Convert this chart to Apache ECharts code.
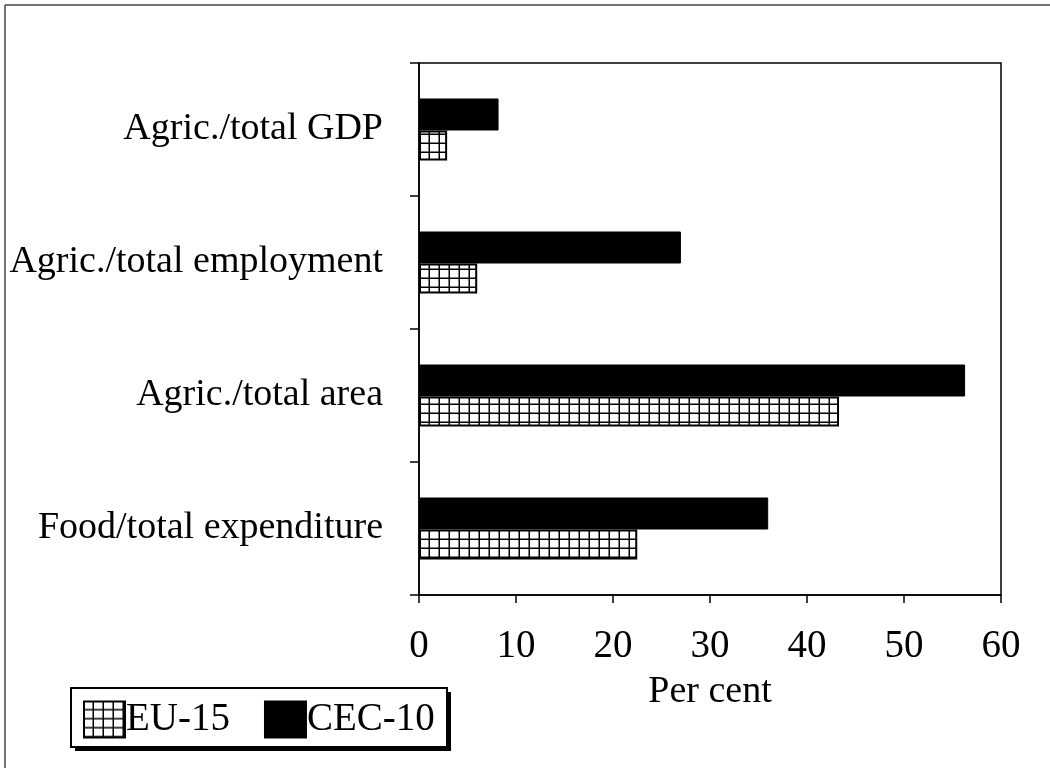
<!DOCTYPE html>
<html>
<head>
<meta charset="utf-8">
<script src="https://cdn.jsdelivr.net/npm/echarts@6/dist/echarts.min.js"></script>
<style>
  html, body { margin: 0; padding: 0; background: #fff; }
  #chart { width: 1050px; height: 768px; }
</style>
</head>
<body>
<div id="chart"></div>
<script>
// categories, top to bottom
const categories = ['Agric./total GDP', 'Agric./total employment', 'Agric./total area', 'Food/total expenditure'];
const cec10 = [8.2, 27.0, 56.3, 36.0];
const eu15 = [2.9, 6.0, 43.3, 22.5];
const xTicks = [0, 10, 20, 30, 40, 50, 60];

// small grid hatch for EU-15
const makeHatch = () => {
  const c = document.createElement('canvas');
  c.width = 10;
  c.height = 9;
  const ctx = c.getContext('2d');
  ctx.fillStyle = '#fff';
  ctx.fillRect(0, 0, 10, 9);
  ctx.fillStyle = '#000';
  ctx.fillRect(8.5, 0, 1.5, 9);
  ctx.fillRect(0, 7.5, 10, 1.5);
  return c;
};

const font = '"Liberation Serif", "Times New Roman", serif';
let myChart = echarts.init(document.getElementById('chart'));

let option = {
  backgroundColor: '#fff',
  animation: false,
  textStyle: { fontFamily: font, color: '#000' },
  grid: {
    left: 419, right: 49, top: 63, bottom: 173,
    show: true, borderColor: '#000', borderWidth: 1.5
  },
  legend: {
    data: ['EU-15', 'CEC-10'],
    left: 83, top: 700,
    z: 10,
    icon: 'rect',
    orient: 'horizontal',
    itemWidth: 41, itemHeight: 36, itemGap: 34,
    padding: 0,
    textStyle: { fontFamily: font, fontSize: 39, color: '#000', padding: [0, 0, 0, -4] }
  },
  xAxis: {
    type: 'value',
    min: 0, max: 60, interval: 10,
    name: 'Per cent',
    nameLocation: 'middle',
    nameGap: 78,
    nameTextStyle: { fontFamily: font, fontSize: 38, color: '#000' },
    axisLine: { show: true, lineStyle: { color: '#000', width: 1.5 } },
    axisTick: { show: true, length: 8, lineStyle: { color: '#000', width: 1.5 } },
    axisLabel: {
      fontFamily: font, fontSize: 39, color: '#000', margin: 32,
      formatter: v => xTicks.includes(v) ? String(v) : ''
    },
    splitLine: { show: false }
  },
  yAxis: {
    type: 'category',
    data: categories,
    inverse: true,
    axisLine: { show: true, lineStyle: { color: '#000', width: 1.5 } },
    axisTick: { show: true, length: 9, lineStyle: { color: '#000', width: 1.5 } },
    axisLabel: { fontFamily: font, fontSize: 38, color: '#000', margin: 36 }
  },
  series: [
    {
      name: 'CEC-10',
      type: 'bar',
      data: cec10,
      barWidth: 32,
      barGap: '0%',
      itemStyle: { color: '#000', borderColor: '#000', borderWidth: 1 }
    },
    {
      name: 'EU-15',
      type: 'bar',
      data: eu15,
      barWidth: 30,
      barGap: '0%',
      itemStyle: {
        color: { image: makeHatch(), repeat: 'repeat' },
        borderColor: '#000', borderWidth: 2
      }
    }
  ],
  graphic: [
    { type: 'line', shape: { x1: 5, y1: 5, x2: 5, y2: 768 }, style: { stroke: '#444', lineWidth: 1.5 } },
    { type: 'line', shape: { x1: 5, y1: 5, x2: 1050, y2: 5 }, style: { stroke: '#444', lineWidth: 1.5 } },
    // legend frame with drop shadow
    { type: 'rect', z: 1, shape: { x: 75, y: 692, width: 376, height: 59 }, style: { fill: '#000' } },
    { type: 'rect', z: 2, shape: { x: 71, y: 688, width: 376, height: 59 }, style: { fill: '#fff', stroke: '#000', lineWidth: 2 } }
  ]
};

myChart.setOption(option);
</script>
</body>
</html>
